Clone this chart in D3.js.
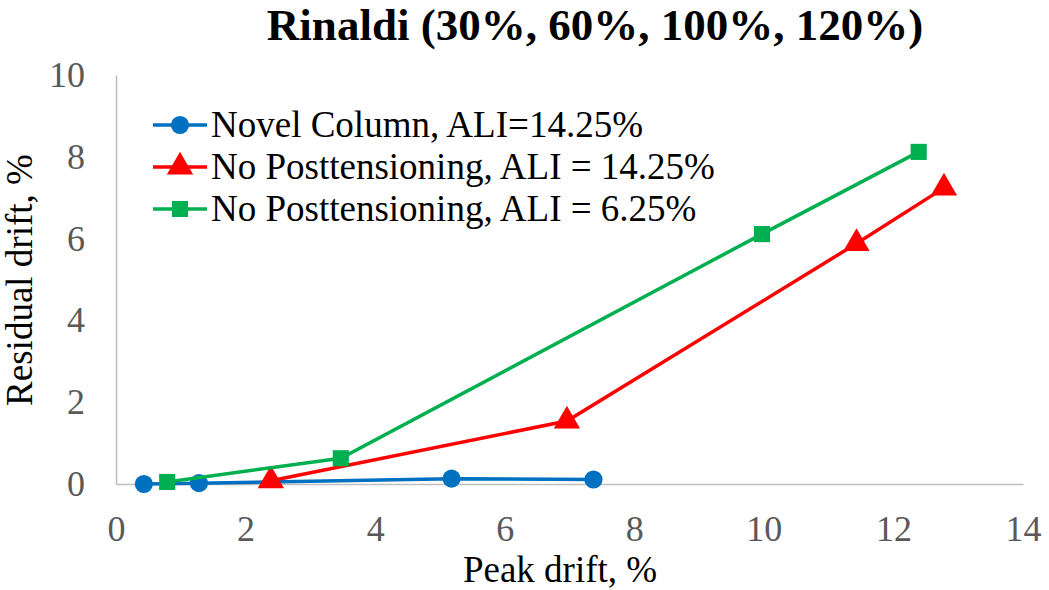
<!DOCTYPE html>
<html lang="en">
<head>
<meta charset="UTF-8">
<title>Rinaldi</title>
<script src="https://d3js.org/d3.v7.min.js"></script>
<style>
  body { margin: 0; background: #fff; }
  svg text { font-family: "Liberation Serif", serif; }
  .domain { stroke: #bfbfbf; stroke-width: 1.5px; }
</style>
</head>
<body>
<svg id="chart" width="1049" height="590"></svg>
<script>
// data
const novelX = [0.43, 1.28, 5.18, 7.37];
const novelY = [0.0, 0.02, 0.13, 0.11];
const noPt14X = [2.39, 6.96, 11.43, 12.78];
const noPt14Y = [0.08, 1.54, 5.88, 7.24];
const noPt6X = [0.79, 3.47, 9.97, 12.39];
const noPt6Y = [0.05, 0.63, 6.11, 8.12];
const xTicks = [0, 2, 4, 6, 8, 10, 12, 14];
const yTicks = [0, 2, 4, 6, 8, 10];

const series = [
  { name: "Novel Column, ALI=14.25%", xs: novelX, ys: novelY, color: "#0070C0", shape: "circle" },
  { name: "No Posttensioning, ALI = 14.25%", xs: noPt14X, ys: noPt14Y, color: "#FF0000", shape: "triangle" },
  { name: "No Posttensioning, ALI = 6.25%", xs: noPt6X, ys: noPt6Y, color: "#00B050", shape: "square" }
];

const svg = d3.select("#chart");
const plotLeft = 116, plotRight = 1023, plotTop = 75, plotBottom = 484;
const serif = '"Liberation Serif", serif';

const x = d3.scaleLinear().domain([0, 14]).range([plotLeft, plotRight]);
const y = d3.scaleLinear().domain([0, 10]).range([plotBottom, plotTop]);

// axes
const xAxis = svg.append("g")
  .attr("transform", `translate(0,${plotBottom})`)
  .call(d3.axisBottom(x).tickValues(xTicks).tickSize(0).tickPadding(31));
xAxis.selectAll(".tick text").attr("dy", "0.71em");

const yAxis = svg.append("g")
  .attr("transform", `translate(${plotLeft},0)`)
  .call(d3.axisLeft(y).tickValues(yTicks).tickSize(0).tickPadding(31));

[xAxis, yAxis].forEach(g => {
  g.attr("font-family", serif).attr("font-size", 36);
  g.selectAll(".tick line").remove();
  g.selectAll(".tick text").attr("fill", "#595959");
});

// symbols
const symbolFor = {
  circle: d3.symbol().type(d3.symbolCircle).size(260),
  triangle: d3.symbol().type(d3.symbolTriangle).size(300),
  square: d3.symbol().type(d3.symbolSquare).size(260)
};

const line = d3.line().x(d => x(d[0])).y(d => y(d[1]));

series.forEach(s => {
  const pts = s.xs.map((v, i) => [v, s.ys[i]]);
  svg.append("path")
    .datum(pts)
    .attr("d", line)
    .attr("fill", "none")
    .attr("stroke", s.color)
    .attr("stroke-width", 3.5);
  svg.append("g").selectAll("path")
    .data(pts)
    .join("path")
    .attr("transform", d => `translate(${x(d[0])},${y(d[1])})`)
    .attr("d", symbolFor[s.shape])
    .attr("fill", s.color);
});

// legend
const legX = 153, legY = 125, legStep = 42;
series.forEach((s, i) => {
  const cy = legY + i * legStep;
  svg.append("line").attr("x1", legX).attr("x2", legX + 54).attr("y1", cy).attr("y2", cy)
    .attr("stroke", s.color).attr("stroke-width", 3.5);
  svg.append("path").attr("transform", `translate(${legX + 27},${cy})`)
    .attr("d", symbolFor[s.shape]).attr("fill", s.color);
  svg.append("text").attr("x", legX + 58).attr("y", cy + 12)
    .attr("font-family", serif).attr("font-size", 37).attr("fill", "#000")
    .text(s.name);
});

// titles
svg.append("text")
  .attr("x", 595).attr("y", 40)
  .attr("text-anchor", "middle")
  .attr("font-family", serif)
  .attr("font-size", 45).attr("font-weight", "bold")
  .text("Rinaldi (30%, 60%, 100%, 120%)");

svg.append("text")
  .attr("x", 560).attr("y", 582)
  .attr("text-anchor", "middle")
  .attr("font-family", serif)
  .attr("font-size", 37)
  .text("Peak drift, %");

svg.append("text")
  .attr("transform", "translate(32,280) rotate(-90)")
  .attr("text-anchor", "middle")
  .attr("font-family", serif)
  .attr("font-size", 37)
  .text("Residual drift, %");
</script>
</body>
</html>
